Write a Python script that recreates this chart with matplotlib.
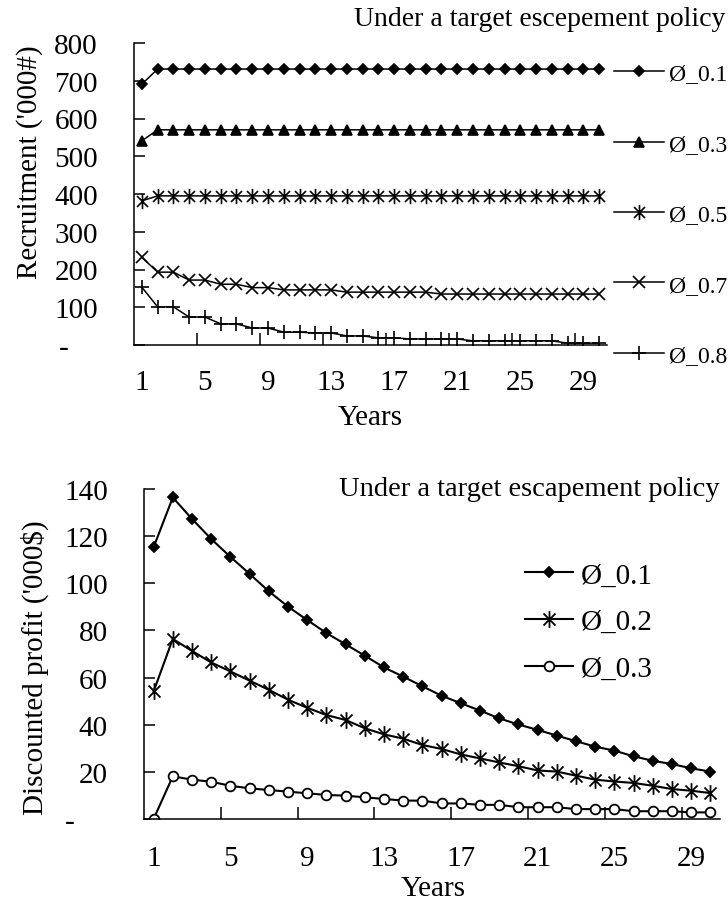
import numpy as np
import matplotlib
matplotlib.use('Agg')
from matplotlib import pyplot as plt
from matplotlib.path import Path

plt.rcParams['font.family'] = ['Liberation Serif', 'DejaVu Serif']

years = np.arange(1, 31)

# Recruitment ('000#) for each harvest share, target escapement policy
rec_01 = [691, 731, 731, 731, 731, 731, 731, 731, 731, 731, 731, 731, 731, 731, 731,
          731, 731, 731, 731, 731, 731, 731, 731, 731, 731, 731, 731, 731, 731, 731]
rec_03 = [541, 570, 570, 570, 570, 570, 570, 570, 570, 570, 570, 570, 570, 570, 570,
          570, 570, 570, 570, 570, 570, 570, 570, 570, 570, 570, 570, 570, 570, 570]
rec_05 = [382, 395, 395, 395, 395, 395, 395, 395, 395, 395, 395, 395, 395, 395, 395,
          395, 395, 395, 395, 395, 395, 395, 395, 395, 395, 395, 395, 395, 395, 395]
rec_07 = [232, 193, 193, 172, 172, 161, 161, 152, 152, 146, 146, 146, 146, 140, 140,
          140, 140, 140, 140, 135, 135, 135, 135, 135, 135, 135, 135, 135, 135, 135]
rec_08 = [153, 101, 101, 74, 74, 56, 56, 45, 45, 34, 34, 32, 32, 24, 24,
          19, 19, 16, 16, 16, 16, 11, 11, 11, 11, 11, 11, 5, 5, 5]
rec_labels = ['Ø_0.1', 'Ø_0.3', 'Ø_0.5', 'Ø_0.7', 'Ø_0.8']

# Discounted profit ('000$)
prof_01 = [115.3, 136.4, 127.3, 118.8, 111.2, 104.0, 96.6, 90.1, 84.4, 78.9,
           74.1, 69.3, 64.3, 60.4, 56.3, 52.3, 49.1, 46.0, 42.7, 40.1,
           37.8, 35.4, 33.0, 30.7, 29.0, 26.6, 24.7, 23.3, 21.5, 20.1]
prof_02 = [54.1, 76.4, 71.3, 66.4, 62.6, 58.7, 54.8, 50.6, 47.2, 44.1,
           42.0, 38.5, 35.9, 34.1, 31.4, 29.7, 27.4, 25.7, 24.0, 22.4,
           20.6, 20.1, 18.4, 16.7, 15.9, 15.3, 14.1, 12.7, 12.0, 11.0]
prof_03 = [0.0, 18.1, 16.7, 15.8, 14.1, 13.0, 12.3, 11.6, 10.9, 10.2,
           9.9, 9.2, 8.5, 7.8, 7.8, 6.6, 6.6, 6.0, 6.0, 5.0,
           5.0, 5.0, 4.2, 4.2, 4.2, 3.3, 3.3, 3.3, 2.8, 2.8]
prof_labels = ['Ø_0.1', 'Ø_0.2', 'Ø_0.3']

title = 'Under a target escepement policy'
title2 = 'Under a target escapement policy'

# asterisk marker: an x with a vertical bar
star = Path([(0, -1), (0, 1), (-0.72, -0.72), (0.72, 0.72), (-0.72, 0.72), (0.72, -0.72)],
            [Path.MOVETO, Path.LINETO] * 3)

W, H = 728, 903
fig = plt.figure(figsize=(W / 100, H / 100), dpi=100)


def px_axes(left, top, right, bottom):
    return fig.add_axes([left / W, 1 - bottom / H, (right - left) / W, (bottom - top) / H])


def style_axes(ax, ymax, ystep, xpad, dash_shift):
    for side in ('top', 'right'):
        ax.spines[side].set_visible(False)
    for side in ('left', 'bottom'):
        ax.spines[side].set_linewidth(1.1)
    ax.set_xlim(0.5, 30.5)
    ax.set_ylim(0, ymax)
    ax.set_xticks(np.arange(1, 30, 4))
    ax.set_xticks(np.arange(4.5, 29, 4), minor=True)
    ax.tick_params(axis='x', which='major', length=0, pad=xpad, labelsize=21)
    ax.tick_params(axis='x', which='minor', direction='in', length=9, width=1.1)
    yt = np.arange(0, ymax + 1, ystep)
    ax.set_yticks(yt)
    ax.set_yticklabels(['-'] + [str(v) for v in yt[1:]])
    ax.tick_params(axis='y', direction='in', length=8, width=1.1, pad=26, labelsize=21)
    # accounting style zero sits further left
    ax.yaxis.get_major_ticks()[0].label1.set_x(-dash_shift)


# top panel: recruitment
ax1 = px_axes(134, 44, 607, 346)
kw = dict(color='black', lw=1.1, markeredgewidth=1.2)
ax1.plot(years, rec_01, marker='D', ms=5, **kw)
ax1.plot(years, rec_03, marker='^', ms=7, **kw)
ax1.plot(years, rec_05, marker=star, ms=11, fillstyle='none', **kw)
ax1.plot(years, rec_07, marker='x', ms=8.5, **kw)
ax1.plot(years, rec_08, marker='+', ms=10.5, **kw)
style_axes(ax1, 800, 100, 17.5, 29 / 473)
fig.legend(ax1.get_lines(), rec_labels, loc='upper left',
           bbox_to_anchor=(614 / W, 1 - 64 / H), frameon=False, fontsize=17,
           handlelength=2.1, handletextpad=0.22, labelspacing=2.07,
           borderpad=0, borderaxespad=0, numpoints=1)
fig.text(725 / W, 1 - 19 / H, title, ha='right', va='center', fontsize=20)
fig.text(30 / W, 1 - 162 / H, "Recruitment ('000#)", rotation=90,
         ha='center', va='center', fontsize=21)
fig.text(370 / W, 1 - 418 / H, 'Years', ha='center', va='center', fontsize=21)

# bottom panel: discounted profit
ax2 = px_axes(144, 490, 720, 820)
kw = dict(color='black', lw=1.5, markeredgewidth=1.3)
ax2.plot(years, prof_01, marker='D', ms=5.4, **kw)
ax2.plot(years, prof_02, marker=star, ms=12, fillstyle='none', **kw)
ax2.plot(years, prof_03, marker='o', ms=7, markerfacecolor='white', **kw)
style_axes(ax2, 140, 20, 19, 33 / 576)
fig.legend(ax2.get_lines(), prof_labels, loc='upper left',
           bbox_to_anchor=(525 / W, 1 - 563 / H), frameon=False, fontsize=21,
           handlelength=1.65, handletextpad=0.25, labelspacing=0.7,
           borderpad=0, borderaxespad=0, numpoints=1)
fig.text(720 / W, 1 - 490 / H, title2, ha='right', va='center', fontsize=20.5)
fig.text(35 / W, 1 - 668 / H, "Discounted profit ('000$)", rotation=90,
         ha='center', va='center', fontsize=21)
fig.text(433 / W, 1 - 889 / H, 'Years', ha='center', va='center', fontsize=21)

fig.savefig('out.png', dpi=100)
